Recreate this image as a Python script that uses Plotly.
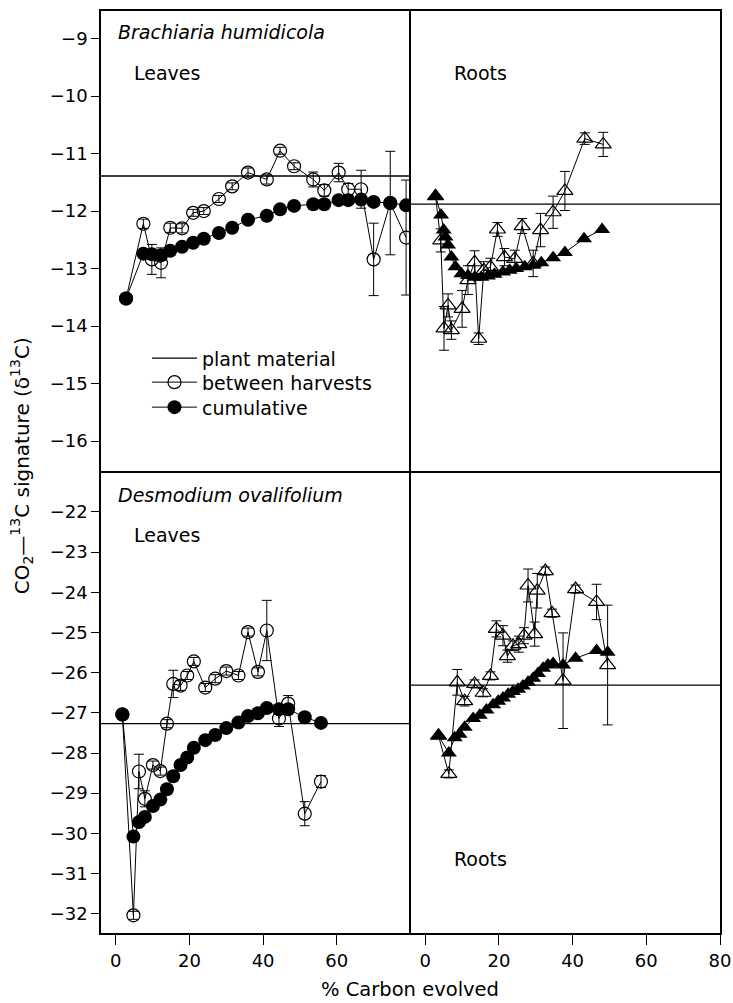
import plotly.graph_objects as go
from plotly.subplots import make_subplots

# ---------------- data ----------------
# Brachiaria humidicola - leaves
bh_leaf_x = [2.8, 7.5, 9.8, 12.3, 14.8, 18.0, 21.0, 23.9, 28.0, 31.6, 35.9, 41.0, 44.6, 48.4,
             53.6, 56.6, 60.5, 63.1, 66.6, 70.0, 74.5, 78.8]
bh_leaf_between = [-13.52, -12.22, -12.84, -12.90, -12.29, -12.30, -12.03, -12.00, -11.79, -11.57,
                   -11.33, -11.45, -10.95, -11.22, -11.45, -11.64, -11.33, -11.62, -11.62, -12.84,
                   -11.86, -12.46]
bh_leaf_between_err = [0, 0.08, 0.26, 0.26, 0.08, 0.08, 0.06, 0.06, 0.06, 0.06, 0.08, 0.08, 0.06,
                       0.06, 0.13, 0.1, 0.16, 0.1, 0.33, 0.63, 0.9, 1.0]
bh_leaf_cum = [-13.52, -12.74, -12.75, -12.77, -12.69, -12.62, -12.55, -12.48, -12.38, -12.29,
               -12.15, -12.08, -11.97, -11.91, -11.88, -11.88, -11.81, -11.81, -11.80, -11.84,
               -11.86, -11.90]
bh_leaf_plant = -11.39

# Brachiaria humidicola - roots
bh_root_x_between = [2.8, 4.2, 5.1, 6.2, 7.1, 10.0, 11.6, 13.4, 14.5, 15.9, 17.7, 19.6, 21.5, 24.3,
                     26.3, 29.3, 31.3, 34.7, 37.9, 43.3, 48.3]
bh_root_between = [-11.74, -12.51, -14.04, -13.64, -14.07, -13.70, -13.20, -12.89, -14.22, -13.03,
                   -12.97, -12.32, -12.80, -12.83, -12.26, -12.91, -12.33, -12.02, -11.65, -10.74,
                   -10.84]
bh_root_between_err = [0, 0.2, 0.38, 0.2, 0.16, 0.32, 0.25, 0.2, 0.1, 0.15, 0.15, 0.12, 0.15, 0.15,
                       0.13, 0.23, 0.29, 0.28, 0.34, 0.1, 0.21]
bh_root_x_cum = [2.8, 4.3, 5.0, 5.5, 6.2, 7.1, 8.2, 9.8, 11.6, 13.4, 15.2, 17.0, 18.8, 21.1, 22.9,
                 24.7, 27.0, 29.3, 31.5, 34.7, 37.9, 43.1, 48.0]
bh_root_cum = [-11.74, -12.07, -12.33, -12.45, -12.59, -12.80, -12.97, -13.09, -13.12, -13.15,
               -13.15, -13.13, -13.10, -13.06, -13.03, -13.00, -12.97, -12.94, -12.90, -12.81,
               -12.72, -12.48, -12.32]
bh_root_plant = -11.88

# Desmodium ovalifolium - leaves
do_leaf_x = [1.8, 4.8, 6.3, 7.9, 10.1, 12.1, 13.9, 15.6, 17.6, 19.4, 21.2, 24.3, 27.0, 30.0, 33.3,
             35.9, 38.6, 41.0, 44.3, 46.8, 51.3, 55.7]
do_leaf_between = [-27.04, -32.04, -28.46, -29.14, -28.30, -28.45, -27.27, -26.28, -26.32, -26.07,
                   -25.72, -26.37, -26.15, -25.96, -26.07, -24.99, -25.98, -24.95, -27.14, -26.77,
                   -29.51, -28.71]
do_leaf_between_err = [0, 0.1, 0.43, 0.2, 0.1, 0.1, 0.1, 0.34, 0.12, 0.1, 0.1, 0.1, 0.1, 0.1, 0.1,
                       0.1, 0.1, 0.75, 0.2, 0.2, 0.3, 0.15]
do_leaf_cum = [-27.04, -30.08, -29.72, -29.59, -29.32, -29.16, -28.90, -28.58, -28.30, -28.11,
               -27.87, -27.68, -27.55, -27.38, -27.24, -27.08, -27.01, -26.88, -26.91, -26.91,
               -27.11, -27.25]
do_leaf_plant = -27.27

# Desmodium ovalifolium - roots
do_root_x_between = [3.6, 6.4, 8.7, 10.7, 13.4, 15.7, 17.7, 19.3, 21.1, 22.3, 23.8, 25.4, 26.8,
                     27.9, 29.7, 30.4, 32.6, 34.4, 37.4, 40.8, 46.5, 49.5]
do_root_between = [-27.57, -28.52, -26.24, -26.71, -26.28, -26.50, -26.08, -24.91, -25.08, -25.59,
                   -25.33, -25.29, -25.08, -23.83, -25.04, -23.96, -23.47, -24.52, -26.20, -23.92,
                   -24.24, -25.81]
do_root_between_err = [0, 0.1, 0.32, 0.12, 0.1, 0.1, 0.1, 0.2, 0.25, 0.15, 0.12, 0.2, 0.2, 0.41,
                       0.3, 0.43, 0.1, 0.1, 1.19, 0.1, 0.44, 1.49]
do_root_x_cum = [3.6, 6.4, 8.0, 9.3, 10.7, 13.0, 14.8, 16.6, 18.4, 19.8, 21.1, 22.5, 23.8, 25.2,
                 26.5, 27.9, 29.3, 30.6, 32.0, 33.3, 34.7, 37.4, 40.8, 46.5, 49.5]
do_root_cum = [-27.57, -28.00, -27.62, -27.53, -27.36, -27.14, -27.06, -26.93, -26.80, -26.71,
               -26.63, -26.54, -26.47, -26.41, -26.33, -26.24, -26.14, -26.02, -25.89, -25.81,
               -25.77, -25.81, -25.64, -25.45, -25.49]
do_root_plant = -26.31

top_yticks = [-16, -15, -14, -13, -12, -11, -10, -9]
bottom_yticks = [-32, -31, -30, -29, -28, -27, -26, -25, -24, -23, -22]
left_xticks = [0, 20, 40, 60]
right_xticks = [0, 20, 40, 60, 80]

# ---------------- figure ----------------
FONT = "DejaVu Sans, Liberation Sans, Arial, sans-serif"
fig = make_subplots(rows=2, cols=2, horizontal_spacing=0, vertical_spacing=0,
                    row_heights=[0.4989, 0.5011])

err_style = dict(type="data", visible=True, color="black", thickness=1, width=5)
line_style = dict(color="black", width=1)

# legend-only entry for the plant material line
fig.add_trace(go.Scatter(x=[None], y=[None], mode="lines", name="plant material",
                         line=dict(color="black", width=1.3), showlegend=True,
                         legend="legend"), row=1, col=1)


def add_panel(row, col, xb, yb, eb, xc, yc, sym_open, sym_fill, size_o, size_f, legend=False):
    fig.add_trace(go.Scatter(
        x=xb, y=yb, mode="lines+markers", name="between harvests", showlegend=legend,
        legend="legend2", line=line_style,
        marker=dict(symbol=sym_open, size=size_o, color="black",
                    line=dict(color="black", width=1.2)),
        error_y=dict(array=eb, **err_style)), row=row, col=col)
    fig.add_trace(go.Scatter(
        x=xc, y=yc, mode="lines+markers", name="cumulative", showlegend=legend,
        legend="legend3", line=line_style,
        marker=dict(symbol=sym_fill, size=size_f, color="black", line=dict(color="black", width=0))),
        row=row, col=col)


add_panel(1, 1, bh_leaf_x, bh_leaf_between, bh_leaf_between_err, bh_leaf_x, bh_leaf_cum,
          "circle-open", "circle", 13, 14, legend=True)
add_panel(1, 2, bh_root_x_between, bh_root_between, bh_root_between_err, bh_root_x_cum,
          bh_root_cum, "triangle-up-open", "triangle-up", 14, 14)
add_panel(2, 1, do_leaf_x, do_leaf_between, do_leaf_between_err, do_leaf_x, do_leaf_cum,
          "circle-open", "circle", 13, 14)
add_panel(2, 2, do_root_x_between, do_root_between, do_root_between_err, do_root_x_cum,
          do_root_cum, "triangle-up-open", "triangle-up", 14, 14)

for (r, c, v) in [(1, 1, bh_leaf_plant), (1, 2, bh_root_plant),
                  (2, 1, do_leaf_plant), (2, 2, do_root_plant)]:
    fig.add_hline(y=v, row=r, col=c, line=dict(color="black", width=1.3))

axis_common = dict(showgrid=False, zeroline=False, showline=True, linecolor="black",
                   linewidth=1.5, tickfont=dict(family=FONT, size=18, color="black"))
XR = [-4, 80]
fig.update_xaxes(range=XR, **axis_common)
fig.update_yaxes(**axis_common)

# each border drawn exactly once
fig.update_xaxes(showticklabels=False, ticks="", mirror=True, row=1, col=1)
fig.update_xaxes(showticklabels=False, ticks="", mirror=True, row=1, col=2)
fig.update_xaxes(tickvals=left_xticks, ticks="outside", ticklen=10, tickwidth=1.3,
                 tickcolor="black", mirror=False, linewidth=2, row=2, col=1)
fig.update_xaxes(tickvals=right_xticks, ticks="outside", ticklen=10, tickwidth=1.3,
                 tickcolor="black", mirror=False, linewidth=2, row=2, col=2)

fig.update_yaxes(range=[-16.52, -8.52], tickvals=top_yticks, ticks="outside", ticklen=8,
                 tickwidth=1.3, tickcolor="black", mirror=False, row=1, col=1)
fig.update_yaxes(range=[-16.52, -8.52], showticklabels=False, ticks="", mirror=True,
                 row=1, col=2)
fig.update_yaxes(range=[-32.48, -20.98], tickvals=bottom_yticks, ticks="outside", ticklen=8,
                 tickwidth=1.3, tickcolor="black", mirror=False, row=2, col=1)
fig.update_yaxes(range=[-32.48, -20.98], showticklabels=False, ticks="", mirror=True,
                 row=2, col=2)

txt = dict(family=FONT, size=19, color="black")
ann = [
    dict(text="<i>Brachiaria humidicola</i>", xref="x domain", yref="y domain", x=0.048, y=0.954),
    dict(text="Leaves", xref="x domain", yref="y domain", x=0.0995, y=0.866),
    dict(text="Roots", xref="x2 domain", yref="y2 domain", x=0.134, y=0.866),
    dict(text="<i>Desmodium ovalifolium</i>", xref="x3 domain", yref="y3 domain", x=0.048, y=0.947),
    dict(text="Leaves", xref="x3 domain", yref="y3 domain", x=0.0995, y=0.862),
    dict(text="Roots", xref="x4 domain", yref="y4 domain", x=0.134, y=0.160),
]
for a in ann:
    fig.add_annotation(showarrow=False, xanchor="left", yanchor="middle", font=txt, **a)

fig.add_annotation(text="% Carbon evolved", xref="paper", yref="paper", x=0.4985, y=-0.0615,
                   showarrow=False, xanchor="center", yanchor="middle",
                   font=dict(family=FONT, size=19.5, color="black"))
fig.add_annotation(text="CO<sub>2</sub>\u2014<sup>13</sup>C signature (\u03b4<sup>13</sup>C)",
                   xref="paper", yref="paper", x=-0.128, y=0.507, textangle=-90,
                   showarrow=False, xanchor="center", yanchor="middle",
                   font=dict(family=FONT, size=20, color="black"))

leg_common = dict(x=0.0743, xanchor="left", yanchor="middle", bgcolor="rgba(0,0,0,0)",
                  borderwidth=0, font=dict(family=FONT, size=19, color="black"), itemwidth=45)
fig.update_layout(
    width=733, height=1003,
    margin=dict(l=101, r=13, t=11, b=70, autoexpand=False),
    plot_bgcolor="white", paper_bgcolor="white",
    font=dict(family=FONT, color="black"),
    showlegend=True,
    legend=dict(y=0.6233, **leg_common),
    legend2=dict(y=0.5973, **leg_common),
    legend3=dict(y=0.5702, **leg_common),
)

fig.write_html("out.html")
